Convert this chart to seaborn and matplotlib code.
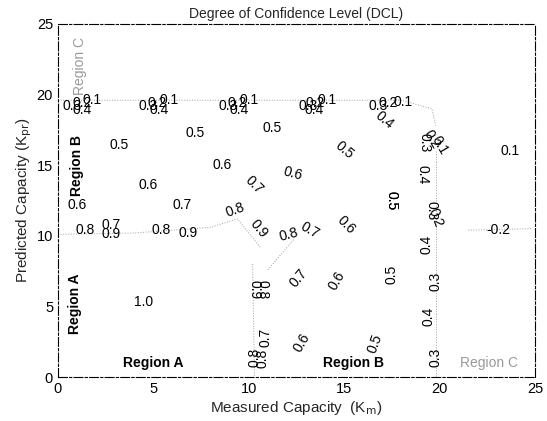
import matplotlib
matplotlib.use("Agg")
import matplotlib.pyplot as plt
import seaborn as sns
import pandas as pd

sns.set_style("white")
plt.rcParams['font.family'] = ['Liberation Sans', 'DejaVu Sans']

# ---- contour labels: value, x, y, rotation ----
lab_text = ["0.3", "0.2", "0.1", "0.4",
            "0.3", "0.2", "0.1", "0.4",
            "0.3", "0.2", "0.1", "0.4",
            "0.3", "0.2", "0.1", "0.4",
            "0.3", "0.2", "0.1", "0.4",
            "0.5", "0.5", "0.5", "0.5", "0.5",
            "0.6", "0.6", "0.6", "0.6", "0.6",
            "0.7", "0.7", "0.8", "0.9", "0.8", "0.7",
            "0.5", "0.4", "0.3", "0.2", "0.1",
            "0.3", "0.2", "0.4", "0.3", "0.4", "0.3",
            "0.5", "0.5", "0.6", "0.6", "0.7",
            "0.1", "-0.2",
            "0.8", "0.7", "0.9", "0.8", "0.9",
            "1.0", "0.9", "0.8", "0.7", "0.8", "0.8"]
lab_x = [0.73, 1.26, 1.80, 1.26,
         4.70, 5.20, 5.80, 5.30,
         8.90, 9.40, 10.0, 9.50,
         13.1, 13.5, 14.1, 13.4,
         16.8, 17.3, 18.1, 17.1,
         3.2, 7.2, 11.2, 15.0, 17.5,
         1.0, 4.7, 8.6, 12.3, 15.1,
         6.5, 10.3, 9.3, 10.5, 12.1, 13.2,
         17.5, 19.1, 19.2, 19.6, 20.0,
         19.6, 19.8, 19.3, 19.8, 19.4, 19.8,
         17.5, 16.6, 14.6, 12.8, 12.6,
         23.7, 23.1,
         1.4, 2.8, 2.8, 5.4, 6.8,
         4.5, 10.3, 10.7, 10.9, 10.3, 10.7]
lab_y = [19.2, 19.4, 19.6, 18.9,
         19.2, 19.4, 19.6, 18.9,
         19.2, 19.4, 19.6, 18.9,
         19.2, 19.4, 19.6, 18.9,
         19.2, 19.4, 19.5, 18.2,
         16.4, 17.3, 17.6, 16.1, 12.5,
         12.2, 13.6, 15.0, 14.4, 10.8,
         12.2, 13.6, 11.8, 10.5, 10.1, 10.4,
         12.5, 14.3, 16.6, 16.8, 16.4,
         11.8, 11.3, 9.4, 6.8, 4.3, 1.4,
         7.3, 2.4, 6.8, 2.4, 7.0,
         16.0, 10.4,
         10.4, 10.8, 10.1, 10.4, 10.2,
         5.3, 6.2, 6.2, 2.8, 1.4, 1.3]
lab_rot = [0, 0, 0, 0,
           0, 0, 0, 0,
           0, 0, 0, 0,
           0, 0, 0, 0,
           0, 0, 0, -40,
           0, 0, 0, -40, -90,
           0, 0, 0, -15, -45,
           0, -45, 20, -50, 15, -30,
           -90, -90, -90, -60, -60,
           -90, -70, 90, 90, 90, 90,
           90, 70, 60, 60, 50,
           0, 0,
           0, 0, 0, 0, 0,
           0, -90, -90, 90, 90, 90]

# ---- region annotations ----
reg_text = ["Region C", "Region B", "Region A", "Region A", "Region B", "Region C"]
reg_x = [1.15, 1.0, 0.9, 5.0, 15.5, 22.6]
reg_y = [22.0, 15.0, 5.2, 1.0, 1.0, 1.0]
reg_rot = [90, 90, 90, 0, 0, 0]
reg_color = ["#9a9a9a", "black", "black", "black", "black", "#9a9a9a"]
reg_bold = [False, True, True, True, True, False]

# ---- faint contour traces (dotted) ----
line_id = (["a"] * 5 + ["b"] * 2 + ["c"] * 2 + ["d"] * 4 + ["e"] * 2 + ["f"] * 2)
line_x = [0.0, 4.0, 8.0, 9.4, 10.6,
          11.0, 12.4,
          10.2, 10.3,
          0.0, 18.0, 19.6, 19.8,
          19.8, 19.8,
          21.5, 24.8]
line_y = [10.1, 10.2, 10.6, 11.2, 9.2,
          7.6, 9.8,
          8.0, 0.0,
          19.6, 19.6, 19.0, 17.8,
          16.0, 0.0,
          10.4, 10.5]

xticks = [0, 5, 10, 15, 20, 25]
yticks = [0, 5, 10, 15, 20, 25]

fig = plt.figure(figsize=(5.47, 4.21), dpi=100)
ax = fig.add_axes([0.106, 0.1045, 0.872, 0.8385])

df = pd.DataFrame({"x": line_x, "y": line_y, "line": line_id})
sns.lineplot(data=df, x="x", y="y", units="line", estimator=None, sort=False,
             color="#a0a0a0", linewidth=0.7, linestyle=":", ax=ax, legend=False)

for t, x, y, r in zip(lab_text, lab_x, lab_y, lab_rot):
    ax.text(x, y, t, rotation=r, ha="center", va="center", fontsize=10,
            color="black", rotation_mode="anchor")

for t, x, y, r, c, b in zip(reg_text, reg_x, reg_y, reg_rot, reg_color, reg_bold):
    ax.text(x, y, t, rotation=r, ha="center", va="center", fontsize=10,
            color=c, fontweight="bold" if b else "normal")

ax.set_xlim(0, 25)
ax.set_ylim(0, 25)
ax.set_xticks(xticks)
ax.set_yticks(yticks)
ax.tick_params(direction="in", length=3, labelsize=10.5, colors="black")
for s in ax.spines.values():
    s.set_color("black")
    s.set_linewidth(0.8)
    s.set_linestyle((0, (8, 2, 2, 2)))

ax.set_title("Degree of Confidence Level (DCL)", fontsize=10, pad=4)
ax.set_xlabel("Measured Capacity  (K$_\\mathrm{m}$)", fontsize=11, labelpad=2)
ax.set_ylabel("Predicted Capacity (K$_\\mathrm{pr}$)", fontsize=11, labelpad=2)

fig.savefig("out.png", dpi=100)
